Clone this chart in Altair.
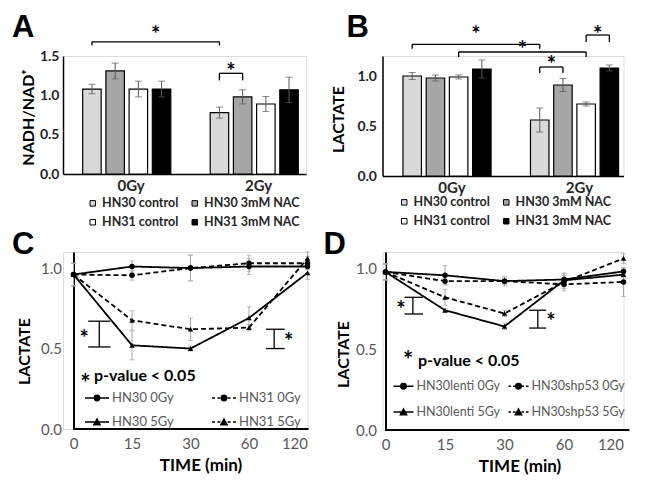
import altair as alt
import pandas as pd

FONT = "Lato"
LETTER_FONT = "Liberation Sans"

# ---------------- data ----------------
groups = ["0Gy", "2Gy"]
bar_series = ["HN30 control", "HN30 3mM NAC", "HN31 control", "HN31 3mM NAC"]
bar_fills = ["#d9d9d9", "#a6a6a6", "#ffffff", "#000000"]

a_0gy = [1.08, 1.31, 1.08, 1.08]
a_0gy_err = [0.06, 0.10, 0.10, 0.10]
a_2gy = [0.78, 0.98, 0.89, 1.07]
a_2gy_err = [0.07, 0.09, 0.095, 0.16]

b_0gy = [1.00, 0.98, 0.99, 1.07]
b_0gy_err = [0.035, 0.03, 0.02, 0.09]
b_2gy = [0.56, 0.91, 0.72, 1.08]
b_2gy_err = [0.12, 0.065, 0.02, 0.03]

time_labels = ["0", "15", "30", "60", "120"]

c_series = ["HN30 0Gy", "HN31 0Gy", "HN30 5Gy", "HN31 5Gy"]
c_hn30_0gy = [0.96, 1.01, 1.00, 1.01, 1.01]
c_hn31_0gy = [0.96, 0.955, 1.00, 1.03, 1.03]
c_hn30_5gy = [0.96, 0.52, 0.50, 0.69, 0.97]
c_hn31_5gy = [0.96, 0.675, 0.62, 0.63, 1.06]
c_hn30_0gy_err = [0.07, 0.035, 0.08, 0.05, 0.04]
c_hn31_0gy_err = [0.07, 0.03, 0.08, 0.05, 0.04]
c_hn30_5gy_err = [0.07, 0.09, 0.015, 0.07, 0.04]
c_hn31_5gy_err = [0.07, 0.06, 0.07, 0.02, 0.04]

d_series = ["HN30lenti 0Gy", "HN30shp53 0Gy", "HN30lenti 5Gy", "HN30shp53 5Gy"]
d_lenti_0gy = [0.977, 0.956, 0.92, 0.93, 0.98]
d_shp53_0gy = [0.977, 0.92, 0.92, 0.90, 0.915]
d_lenti_5gy = [0.977, 0.74, 0.64, 0.925, 0.96]
d_shp53_5gy = [0.977, 0.82, 0.72, 0.915, 1.06]
d_lenti_0gy_err = [0.05, 0.06, 0.03, 0.04, 0.02]
d_shp53_0gy_err = [0.05, 0.02, 0.02, 0.04, 0.09]
d_lenti_5gy_err = [0.05, 0.01, 0.02, 0.04, 0.02]
d_shp53_5gy_err = [0.05, 0.05, 0.02, 0.04, 0.03]

# ---------------- helpers ----------------
STRIDE = 0.182
BAR_W = 0.145


def bar_x(g, s):
    return g + (s - 1.5) * STRIDE


def letter_layer(letter, lx, ly):
    return alt.Chart(pd.DataFrame({"t": [letter]})).mark_text(
        align="left", baseline="top", font=LETTER_FONT, fontSize=31,
        fontWeight="bold", color="black"
    ).encode(text="t:N", x=alt.value(lx), y=alt.value(ly))


def bar_panel(v0, e0, v2, e2, xdomain, width, ydomain, height, yvalues,
              ytitle, title_x, title_y, label_pad, letter, letter_xy,
              legend_xy, col_pad, brackets, label_shift):
    rows = []
    for gi, (vals, errs) in enumerate([(v0, e0), (v2, e2)]):
        for si, name in enumerate(bar_series):
            c = bar_x(gi, si)
            rows.append({"series": name, "xc": c, "xa": c - BAR_W / 2,
                         "xb": c + BAR_W / 2, "v": vals[si],
                         "lo": vals[si] - errs[si], "hi": vals[si] + errs[si]})
    df = pd.DataFrame(rows)
    xs = alt.Scale(domain=xdomain, nice=False, zero=False)
    ys = alt.Scale(domain=ydomain, nice=False, zero=True)
    label_expr = "[" + ",".join("'%s'" % g for g in groups) + "][round(datum.value)]"
    xaxis = alt.Axis(values=[i + label_shift for i in range(len(groups))],
                     labelExpr=label_expr, title=None, labelOverlap=False,
                     domain=True, domainColor="black", domainWidth=1.5,
                     ticks=False, grid=False, labelFont=FONT, labelFontSize=15,
                     labelFontWeight="bold", labelColor="#262626",
                     labelPadding=4)
    yaxis = alt.Axis(values=yvalues, tickCount=len(yvalues), format=".1f",
                     title=ytitle, labelOverlap=False, labelFlush=False,
                     labelBound=False, labelSeparation=0,
                     domain=True, domainColor="black", domainWidth=1.5,
                     ticks=False, grid=False, labelFont=FONT, labelFontSize=14,
                     labelFontWeight="bold", labelColor="#262626",
                     labelPadding=label_pad, titleFont=FONT, titleFontSize=16,
                     titleFontWeight="bold", titleColor="black",
                     titleAngle=270, titleX=title_x, titleY=title_y,
                     titleAlign="center", titleBaseline="bottom")
    legend = alt.Legend(orient="none", legendX=legend_xy[0], legendY=legend_xy[1],
                        columns=2, direction="horizontal", title=None,
                        gridAlign="each",
                        symbolType="square", symbolSize=30,
                        symbolStrokeColor="black", symbolStrokeWidth=1,
                        labelFont=FONT, labelFontSize=12.5, labelFontWeight="bold",
                        labelColor="#262626", labelOffset=3,
                        columnPadding=col_pad, rowPadding=6)
    bars = alt.Chart(df).mark_bar(stroke="black", strokeWidth=1.2).encode(
        x=alt.X("xa:Q", scale=xs, axis=xaxis), x2="xb:Q",
        y=alt.Y("v:Q", scale=ys, axis=yaxis), y2=alt.datum(0),
        fill=alt.Fill("series:N", scale=alt.Scale(domain=bar_series, range=bar_fills),
                      legend=legend))
    err = alt.Chart(df).mark_rule(color="#595959", strokeWidth=1).encode(
        x="xc:Q", y="lo:Q", y2="hi:Q")
    caps = alt.Chart(df).transform_fold(["lo", "hi"], as_=["k", "cv"]).mark_tick(
        orient="horizontal", color="#595959", size=7, thickness=1).encode(
        x="xc:Q", y="cv:Q")
    segs, stars = [], []
    for (g1, s1, g2, s2, lev, leg, sy) in brackets:
        x1, x2 = bar_x(g1, s1), bar_x(g2, s2)
        segs.append({"x": x1, "x2": x2, "y": lev, "y2": lev})
        segs.append({"x": x1, "x2": x1, "y": lev - leg, "y2": lev})
        segs.append({"x": x2, "x2": x2, "y": lev - leg, "y2": lev})
        stars.append({"x": (x1 + x2) / 2, "y": sy, "t": "*"})
    brk = alt.Chart(pd.DataFrame(segs)).mark_rule(color="black", strokeWidth=1.3).encode(
        x="x:Q", x2="x2:Q", y="y:Q", y2="y2:Q")
    st = alt.Chart(pd.DataFrame(stars)).mark_text(
        font=FONT, fontSize=22, fontWeight="bold", color="black",
        baseline="middle", dy=5).encode(x="x:Q", y="y:Q", text="t:N")
    lt = letter_layer(letter, *letter_xy)
    return alt.layer(bars, err, caps, brk, st, lt).properties(width=width, height=height)


def line_panel(names, vals, errs, dashed, shapes, leg_paths, leg_size, leg_font,
               xdomain, x_end, width, height, axis_offset, label_pad, title_x, title_y,
               letter, letter_xy, legend_xy, col_pad, row_pad,
               vbrackets, ptext, xtitle_x):
    rows = []
    for name, v, e in zip(names, vals, errs):
        for i, (vv, ee) in enumerate(zip(v, e)):
            rows.append({"series": name, "t": i, "v": vv, "lo": vv - ee, "hi": vv + ee})
    df = pd.DataFrame(rows)
    xs = alt.Scale(domain=xdomain, nice=False, zero=False)
    ys = alt.Scale(domain=[0, 1.1], nice=False)
    label_expr = "[" + ",".join("'%s'" % t for t in time_labels) + "][datum.value]"
    xaxis = alt.Axis(values=list(range(len(time_labels))), labelExpr=label_expr,
                     domain=False, ticks=False, grid=False, labelFont=FONT,
                     labelFontSize=15, labelColor="#595959", labelPadding=7,
                     labelOverlap=False,
                     title="TIME (min)", titleFont=FONT, titleFontSize=17,
                     titleFontWeight="bold", titleColor="black", titlePadding=6,
                     titleX=xtitle_x, titleAlign="center", titleAnchor="start")
    yaxis = alt.Axis(values=[0, 0.5, 1.0], format=".1f", title="LACTATE",
                     offset=axis_offset, domain=True, domainColor="black",
                     domainWidth=2, ticks=False, grid=False, labelFont=FONT,
                     labelFontSize=15, labelColor="#595959", labelPadding=label_pad,
                     labelOverlap=False,
                     titleFont=FONT, titleFontSize=16, titleFontWeight="bold",
                     titleColor="black", titleAngle=270, titleX=title_x,
                     titleY=title_y, titleAlign="center", titleBaseline="bottom")
    dash_range = [[5, 3] if d else [1, 0] for d in dashed]
    err = alt.Chart(df).mark_rule(color="#a6a6a6", strokeWidth=1).encode(
        x=alt.X("t:Q", scale=xs, axis=xaxis), y=alt.Y("lo:Q", scale=ys, axis=yaxis), y2="hi:Q")
    caps = alt.Chart(df).transform_fold(["lo", "hi"], as_=["k", "cv"]).mark_tick(
        orient="horizontal", color="#a6a6a6", size=5, thickness=1).encode(
        x="t:Q", y="cv:Q")
    base_line = alt.Chart(pd.DataFrame({"x": [0], "x2": [x_end], "y": [0]})).mark_rule(
        color="black", strokeWidth=2).encode(x="x:Q", x2="x2:Q", y="y:Q")
    lines = alt.Chart(df).mark_line(color="black", strokeWidth=1.8).encode(
        x="t:Q", y="v:Q", detail="series:N",
        strokeDash=alt.StrokeDash("series:N", scale=alt.Scale(domain=names, range=dash_range),
                                  legend=None))
    pts = alt.Chart(df).mark_point(filled=True, color="black", size=30, opacity=1).encode(
        x="t:Q", y="v:Q",
        shape=alt.Shape("series:N", scale=alt.Scale(domain=names, range=shapes), legend=None))
    legend = alt.Legend(orient="none", legendX=legend_xy[0], legendY=legend_xy[1],
                        columns=2, direction="horizontal", title=None,
                        symbolSize=leg_size, symbolStrokeColor="black",
                        symbolStrokeWidth=1.5, symbolOpacity=1,
                        labelFont=FONT, labelFontSize=leg_font, labelColor="#595959",
                        labelOffset=2, columnPadding=col_pad, rowPadding=row_pad)
    leg = alt.Chart(df).transform_filter("false").mark_point(
        filled=False, color="black", strokeWidth=1.5, opacity=1, size=leg_size).encode(
        x="t:Q", y="v:Q",
        shape=alt.Shape("series:N", scale=alt.Scale(domain=names, range=leg_paths),
                        legend=legend))
    segs, stars = [], []
    for (xv, xa, xb, ylo, yhi, sx, sy) in vbrackets:
        segs.append({"x": xv, "x2": xv, "y": ylo, "y2": yhi})
        segs.append({"x": xa, "x2": xb, "y": ylo, "y2": ylo})
        segs.append({"x": xa, "x2": xb, "y": yhi, "y2": yhi})
        stars.append({"x": sx, "y": sy, "t": "*"})
    brk = alt.Chart(pd.DataFrame(segs)).mark_rule(color="black", strokeWidth=1.3).encode(
        x="x:Q", x2="x2:Q", y="y:Q", y2="y2:Q")
    st = alt.Chart(pd.DataFrame(stars)).mark_text(
        font=FONT, fontSize=22, fontWeight="bold", color="black",
        baseline="middle", dy=5).encode(x="x:Q", y="y:Q", text="t:N")
    (psx, psy, ptx, pty) = ptext
    pstar = alt.Chart(pd.DataFrame({"x": [psx], "y": [psy], "t": ["*"]})).mark_text(
        font=FONT, fontSize=24, fontWeight="bold", color="black",
        baseline="middle", dy=6).encode(x="x:Q", y="y:Q", text="t:N")
    ptxt = alt.Chart(pd.DataFrame({"x": [ptx], "y": [pty], "t": ["p-value < 0.05"]})).mark_text(
        font=FONT, fontSize=16, fontWeight="bold", color="black",
        align="left", baseline="middle").encode(x="x:Q", y="y:Q", text="t:N")
    lt = letter_layer(letter, *letter_xy)
    return alt.layer(err, caps, base_line, lines, pts, leg, brk, st, pstar, ptxt, lt).resolve_scale(
        shape="independent").properties(width=width, height=height)


def leg_path(dashed, tri, r):
    if dashed:
        line = "M-1,0L-0.75,0M-0.55,0L-0.3,0M0.3,0L0.55,0M0.75,0L1,0"
    else:
        line = "M-1,0L1,0"
    mk = ""
    for f in (1.0, 0.55, 0.15):
        rr = r * f
        if tri:
            mk += "M-%.3f,%.3fL0,-%.3fL%.3f,%.3fZ" % (rr * 1.15, rr, rr * 1.1, rr * 1.15, rr)
        else:
            mk += "M-%.3f,0A%.3f,%.3f,0,1,1,%.3f,0A%.3f,%.3f,0,1,1,-%.3f,0Z" % (
                rr, rr, rr, rr, rr, rr, rr)
    return line + mk


# ---------------- panels ----------------
A = bar_panel(a_0gy, a_0gy_err, a_2gy, a_2gy_err,
              xdomain=[-0.5, 1.406], width=243, ydomain=[0, 1.5], height=118,
              yvalues=[0.0, 0.5, 1.0, 1.5], ytitle="NADH/NAD\u207a",
              title_x=-27, title_y=61, label_pad=4,
              letter="A", letter_xy=(-51, -43), legend_xy=(23.5, 141), col_pad=10,
              brackets=[(0, 0, 1, 0, 1.68, 0.045, 1.83),
                        (1, 0, 1, 1, 1.28, 0.09, 1.36)],
              label_shift=0.03)

B = bar_panel(b_0gy, b_0gy_err, b_2gy, b_2gy_err,
              xdomain=[-0.506, 1.384], width=241, ydomain=[0, 1.2], height=120,
              yvalues=[0.0, 0.5, 1.0], ytitle="LACTATE",
              title_x=-36, title_y=63, label_pad=6,
              letter="B", letter_xy=(-36, -43), legend_xy=(15.5, 140), col_pad=10,
              brackets=[(0, 0, 1, 0, 1.317, 0.045, 1.46),
                        (0, 2, 1, 2, 1.24, 0.05, 1.31),
                        (1, 0, 1, 1, 1.09, 0.06, 1.16),
                        (1, 2, 1, 3, 1.41, 0.07, 1.46)],
              label_shift=0.035)

C = line_panel(c_series, [c_hn30_0gy, c_hn31_0gy, c_hn30_5gy, c_hn31_5gy],
               [c_hn30_0gy_err, c_hn31_0gy_err, c_hn30_5gy_err, c_hn31_5gy_err],
               dashed=[False, True, False, True],
               shapes=["circle", "circle", "triangle-up", "triangle-up"],
               leg_paths=[leg_path(False, False, 0.22), leg_path(True, False, 0.22),
                          leg_path(False, True, 0.22), leg_path(True, True, 0.22)],
               leg_size=576, leg_font=13,
               xdomain=[-0.18, 4.0], x_end=4.02, width=244.5, height=177,
               axis_offset=-10.5, label_pad=12, title_x=-41, title_y=99,
               letter="C", letter_xy=(-51, -22), legend_xy=(21, 133),
               col_pad=35, row_pad=4,
               vbrackets=[(0.44, 0.25, 0.63, 0.51, 0.67, 0.18, 0.59),
                          (3.43, 3.29, 3.61, 0.50, 0.62, 3.68, 0.57)],
               ptext=(0.20, 0.31, 0.35, 0.33), xtitle_x=137.5)

D = line_panel(d_series, [d_lenti_0gy, d_shp53_0gy, d_lenti_5gy, d_shp53_5gy],
               [d_lenti_0gy_err, d_shp53_0gy_err, d_lenti_5gy_err, d_shp53_5gy_err],
               dashed=[False, True, False, True],
               shapes=["circle", "circle", "triangle-up", "triangle-up"],
               leg_paths=[leg_path(False, False, 0.27), leg_path(True, False, 0.27),
                          leg_path(False, True, 0.27), leg_path(True, True, 0.27)],
               leg_size=400, leg_font=12.5,
               xdomain=[-0.0504, 4.0], x_end=4.1, width=241, height=178,
               axis_offset=-3, label_pad=9, title_x=-34, title_y=102,
               letter="D", letter_xy=(-59, -22), legend_xy=(10, 123),
               col_pad=5, row_pad=8,
               vbrackets=[(0.46, 0.32, 0.63, 0.717, 0.82, 0.26, 0.77),
                          (2.56, 2.415, 2.70, 0.63, 0.74, 2.78, 0.70)],
               ptext=(0.38, 0.456, 0.545, 0.425), xtitle_x=137)

chart = alt.ConcatChart(
    concat=[A, B, C, D], columns=2, spacing={"row": 76, "column": 74.5},
    bounds="flush", align="each", padding=3
).resolve_scale(
    fill="independent", shape="independent", strokeDash="independent"
).configure_view(stroke=None).configure(font=FONT, background="white")

chart.save("out.html", embed_options={"renderer": "svg", "actions": False})
